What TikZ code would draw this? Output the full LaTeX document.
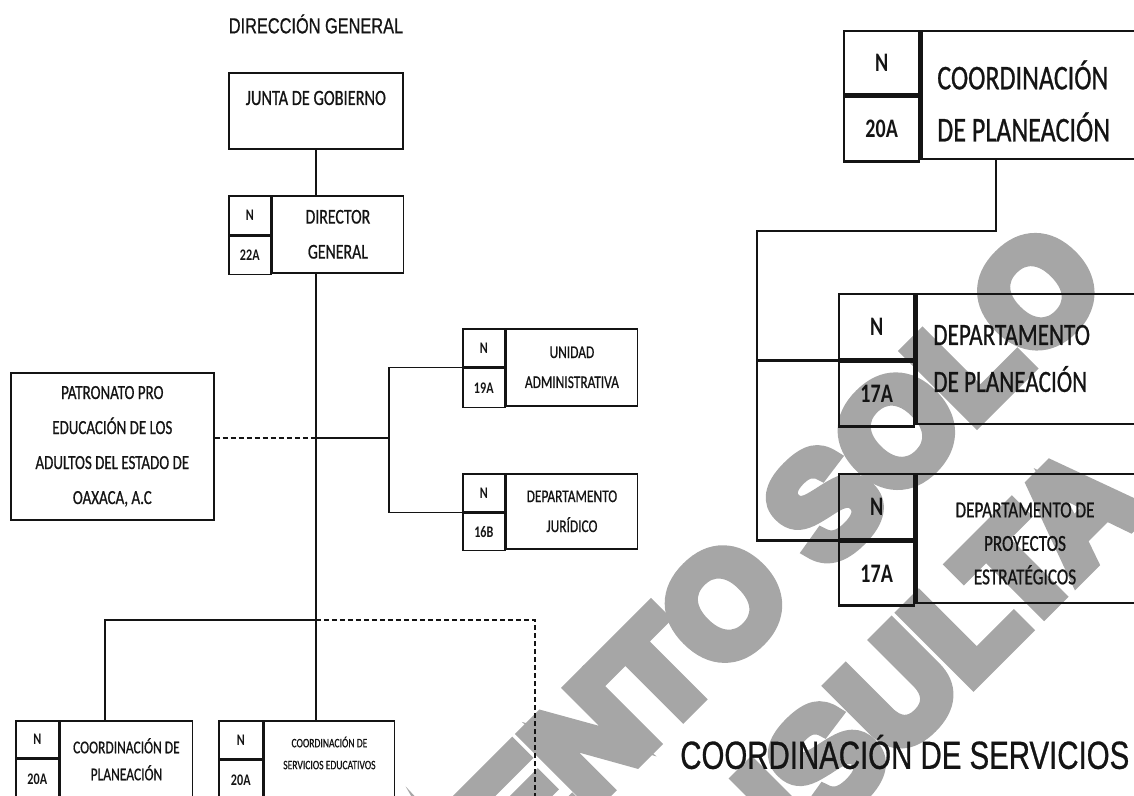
\documentclass[tikz,border=0pt]{standalone}
\usepackage{fontspec}
\setmainfont{Carlito}[FakeStretch=0.75, UprightFeatures={FakeBold=0.7}]
\newfontfamily\arialfont{Liberation Sans}[FakeStretch=0.75, FakeBold=0.7]
\newfontfamily\marcafont{Liberation Sans Bold}[FakeBold=10]
\usetikzlibrary{positioning,calc}
\definecolor{OaxNegro}{RGB}{20,20,20}
\definecolor{OaxMarca}{RGB}{166,166,166}
\tikzset{
  oax/celda/.style={
    draw=OaxNegro,
    line width=1.15pt,
    anchor=north west,
    inner sep=0pt,
    align=center,
    text=OaxNegro
  },
  oax/nivel/.style={oax/celda, font=\bfseries\fontsize{11.5}{13}\selectfont},
  oax/celdader/.style={oax/celda, line width=1.7pt},
  oax/nivelder/.style={oax/celdader, font=\bfseries\fontsize{19}{22}\selectfont},
  oax/texto/.style={inner sep=0pt, align=center, text=OaxNegro},
  oax/linea/.style={draw=OaxNegro, line width=1.1pt},
  oax/lineader/.style={draw=OaxNegro, line width=1.7pt},
  oax/punteada/.style={oax/linea, dash pattern=on 3.5pt off 2.2pt},
  oax/titulo/.style={inner sep=0pt, text=OaxNegro, font=\arialfont\fontsize{15.5}{18}\selectfont},
  oax/encabezado/.style={inner sep=0pt, text=OaxNegro, font=\arialfont\fontsize{27.9}{32}\selectfont},
  oax/marca/.style={inner sep=0pt, rotate=45, text=OaxMarca, font=\marcafont\fontsize{101}{116}\selectfont}
}

\begin{document}
\begin{tikzpicture}[x=1cm,y=1cm]
  \useasboundingbox (0,0) rectangle (28.35,-19.9);
  \node[oax/marca, anchor=base east] (marcaA) at (27.75,-7.175) {DOCUMENTO SOLO};
  \node[oax/marca, anchor=base west] (marcaB) at (15.1,-26.28) {CONSULTA};

  \node[oax/titulo] (direccion) at (7.9,-0.6) {DIRECCIÓN GENERAL};

  \node[oax/celda, minimum width=4.35cm, minimum height=1.9cm] (junta) at (5.7,-1.8) {};
  \node[oax/texto, font=\fontsize{15.5}{18}\selectfont] (juntaTxt) at ([yshift=-0.65cm]junta.north) {JUNTA DE GOBIERNO};

  \node[oax/nivel, minimum width=1.05cm, minimum height=0.975cm] (dgN) at (5.7,-4.875) {N};
  \node[oax/nivel, minimum width=1.05cm, minimum height=0.95cm] (dgNivel) at (dgN.south west) {22A};
  \node[oax/celda, minimum width=3.275cm, minimum height=1.925cm, font=\fontsize{15}{24.9}\selectfont] (dg) at (dgN.north east) {DIRECTOR\\GENERAL};

  \node[oax/celda, minimum width=5.075cm, minimum height=3.675cm, font=\fontsize{14.2}{24.9}\selectfont] (patronato) at (0.25,-9.3) {PATRONATO PRO\\EDUCACIÓN DE LOS\\ADULTOS DEL ESTADO DE\\OAXACA, A.C};

  \node[oax/nivel, minimum width=1.05cm, minimum height=0.95cm] (uaN) at (11.55,-8.2) {N};
  \node[oax/nivel, minimum width=1.05cm, minimum height=0.975cm] (uaNivel) at (uaN.south west) {19A};
  \node[oax/celda, minimum width=3.275cm, minimum height=1.925cm, font=\fontsize{12.7}{21.3}\selectfont] (ua) at (uaN.north east) {UNIDAD\\ADMINISTRATIVA};

  \node[oax/nivel, minimum width=1.05cm, minimum height=0.95cm] (djN) at (11.55,-11.825) {N};
  \node[oax/nivel, minimum width=1.05cm, minimum height=0.925cm] (djNivel) at (djN.south west) {16B};
  \node[oax/celda, minimum width=3.275cm, minimum height=1.875cm, font=\fontsize{12.7}{21.3}\selectfont] (dj) at (djN.north east) {DEPARTAMENTO\\JURÍDICO};

  \node[oax/nivel, minimum width=1.075cm, minimum height=0.925cm] (cplN) at (0.375,-18) {N};
  \node[oax/nivel, minimum width=1.075cm, minimum height=1cm] (cplNivel) at (cplN.south west) {20A};
  \node[oax/celda, minimum width=3.3cm, minimum height=1.925cm, font=\fontsize{12.8}{19.2}\selectfont] (cpl) at (cplN.north east) {COORDINACIÓN DE\\PLANEACIÓN};

  \node[oax/nivel, minimum width=1.1cm, minimum height=0.95cm] (cseN) at (5.45,-18) {N};
  \node[oax/nivel, minimum width=1.1cm, minimum height=0.975cm] (cseNivel) at (cseN.south west) {20A};
  \node[oax/celda, minimum width=3.25cm, minimum height=1.925cm] (cse) at (cseN.north east) {};
  \node[oax/texto, font=\fontsize{9.1}{15.6}\selectfont] (cseTxt) at ([yshift=0.16cm]cse.center) {COORDINACIÓN DE\\SERVICIOS EDUCATIVOS};

  \coordinate (rama) at (9.725,-10.95);
  \coordinate (barra) at (2.625,-15.5);
  \coordinate (esquina) at (13.375,-15.5);
  \coordinate (salida) at (13.375,-20.2);
  \draw[oax/linea] (junta.south) -- (junta.south |- dg.north);
  \draw[oax/linea] (junta.south |- dg.south) -- (junta.south |- cse.north);
  \draw[oax/punteada] (patronato.east |- rama) -- (junta.south |- rama);
  \draw[oax/linea] (junta.south |- rama) -- (rama);
  \draw[oax/linea] (uaN.south west) -| (rama) |- (djN.south west);
  \draw[oax/linea] (barra |- cpl.north) -- (barra) -- (junta.south |- barra);
  \draw[oax/punteada] (junta.south |- barra) -- (esquina) -- (salida);

  \node[oax/nivelder, minimum width=1.875cm, minimum height=1.575cm] (cprN) at (21.075,-0.75) {N};
  \node[oax/nivelder, minimum width=1.875cm, minimum height=1.625cm] (cprNivel) at (cprN.south west) {20A};
  \node[oax/celdader, minimum width=5.6cm, minimum height=3.2cm] (cpr) at (cprN.north east) {};
  \node[oax/texto, anchor=west, align=left, font=\fontsize{24.7}{37}\selectfont] (cprTxt) at (23.425,-2.525) {COORDINACIÓN\\DE PLANEACIÓN};

  \node[oax/nivelder, minimum width=1.875cm, minimum height=1.625cm] (dplN) at (20.95,-7.325) {N};
  \node[oax/nivelder, minimum width=1.875cm, minimum height=1.625cm] (dplNivel) at (dplN.south west) {17A};
  \node[oax/celdader, minimum width=5.7cm, minimum height=3.25cm] (dpl) at (dplN.north east) {};
  \node[oax/texto, anchor=west, align=left, font=\fontsize{22}{33.4}\selectfont] (dplTxt) at (23.325,-8.9625) {DEPARTAMENTO\\DE PLANEACIÓN};

  \node[oax/nivelder, minimum width=1.875cm, minimum height=1.625cm] (dpyN) at (20.95,-11.825) {N};
  \node[oax/nivelder, minimum width=1.875cm, minimum height=1.6cm] (dpyNivel) at (dpyN.south west) {17A};
  \node[oax/celdader, minimum width=5.7cm, minimum height=3.225cm] (dpy) at (dpyN.north east) {};
  \node[oax/texto, font=\fontsize{16.3}{23.8}\selectfont] (dpyTxt) at (25.625,-13.5875) {DEPARTAMENTO DE\\PROYECTOS\\ESTRATÉGICOS};

  \coordinate (codoA) at (24.9,-5.775);
  \coordinate (codoB) at (18.925,-5.775);
  \draw[oax/lineader] (codoA |- cpr.south) -- (codoA) -- (codoB) |- (dpyN.south west);
  \draw[oax/lineader] (codoB |- dplN.south west) -- (dplN.south west);

  \node[oax/encabezado, anchor=west] (cseTitulo) at (17,-18.8) {COORDINACIÓN DE SERVICIOS};
\end{tikzpicture}
\end{document}
